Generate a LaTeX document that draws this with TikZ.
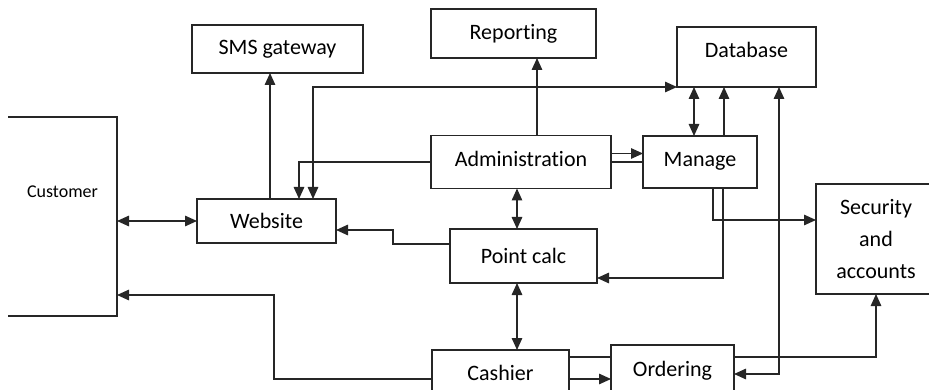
\documentclass[tikz,border=0pt]{standalone}
\usepackage{fontspec}
\setmainfont{Carlito}[Ligatures=NoCommon]
\usetikzlibrary{arrows.meta}
\begin{document}
\begin{tikzpicture}[x=1pt,y=-1pt,
  tip/.tip={Triangle[length=12pt,width=10.5pt]},
  wire/.style={draw=black!85, line width=1.4pt},
  box/.style={draw=black!85, line width=1.3pt, rectangle, inner sep=0pt, outer sep=0pt,
              font=\fontsize{22}{32}\selectfont, align=center},
  link/.style={wire, -tip},
  both/.style={wire, tip-tip}]
\useasboundingbox (0,0) rectangle (929,390);

% boxes
\node[box, draw=none, minimum width=109pt, minimum height=199pt,
      label={[font=\fontsize{18}{22}\selectfont, yshift=24.5pt]center:Customer}]
      (customer) at (62.5,216.5) {};
\draw[wire, line width=1.3pt] (customer.north west) -- (customer.north east)
      -- (customer.south east) -- (customer.south west);
\node[box, minimum width=139pt, minimum height=44pt] (website) at (266.5,221) {Website};
\node[box, minimum width=171pt, minimum height=48pt] (sms) at (277.5,49) {SMS gateway};
\node[box, minimum width=165pt, minimum height=49pt] (reporting) at (513.5,33.5) {Reporting};
\node[box, minimum width=139pt, minimum height=60pt, text depth=14pt] (database) at (746.5,57) {Database};
\node[box, minimum width=180pt, minimum height=53pt, text depth=7pt] (admin) at (521,162) {Administration};
\node[box, minimum width=114pt, minimum height=52pt, text depth=6pt] (manage) at (700,162) {Manage};
\node[box, minimum width=147pt, minimum height=54pt] (pointcalc) at (523.5,256) {Point calc};
\node[box, minimum width=120pt, minimum height=110pt] (security) at (876,239) {Security\\and\\accounts};
\node[box, minimum width=137pt, minimum height=46pt] (cashier) at (500.5,373) {Cashier};
\node[box, minimum width=123pt, minimum height=52pt] (ordering) at (672.5,371) {Ordering};

% connectors
\draw[both] (website.west -| customer.east) -- (website.west);
\draw[link] ([xshift=3.5pt]website.north) -- ([xshift=3.5pt]website.north |- sms.south);
\draw[both] ([xshift=46.5pt]website.north) |- (database.south west);
\draw[link] (admin.west) -| ([xshift=32.5pt]website.north);
\draw[link] ([xshift=16pt]admin.north) -- ([xshift=16pt]admin.north |- reporting.south);
\draw[both] ([xshift=-4pt]admin.south) -- ([xshift=-4pt]admin.south |- pointcalc.north);
\draw[link] ([yshift=8.5pt]admin.east) -- ([yshift=8.5pt]admin.east -| manage.west);
\draw[wire] (admin.east) -- (admin.east -| manage.west);
\draw[both] ([xshift=-6pt]manage.north) -- ([xshift=-6pt]manage.north |- database.south);
\draw[link] ([xshift=24pt]manage.north) -- ([xshift=24pt]manage.north |- database.south);
\draw[both] ([xshift=32.5pt]database.south) |- ([yshift=-3pt]ordering.east);
\draw[link] ([xshift=13pt]manage.south) |- ([yshift=19pt]security.west);
\draw[link] ([xshift=23pt]manage.south) |- ([yshift=-22pt]pointcalc.east);
\draw[link] ([yshift=12pt]pointcalc.west) -- ++(-57pt,0) |- ([yshift=-9pt]website.east);
\draw[both] ([xshift=-6.5pt]pointcalc.south) -- ([xshift=-6.5pt]pointcalc.south |- cashier.north);
\draw[link] ([yshift=-6pt]cashier.west) -- ++(-158pt,0) |- ([yshift=-78.5pt]customer.east);
\draw[wire] ([yshift=16pt]cashier.east) -- ([yshift=16pt]cashier.east -| ordering.west);
\draw[link] ([yshift=-6pt]cashier.east) -- ([yshift=-6pt]cashier.east -| ordering.west);
\draw[link] ([yshift=14pt]ordering.east) -| (security.south);
\end{tikzpicture}
\end{document}
